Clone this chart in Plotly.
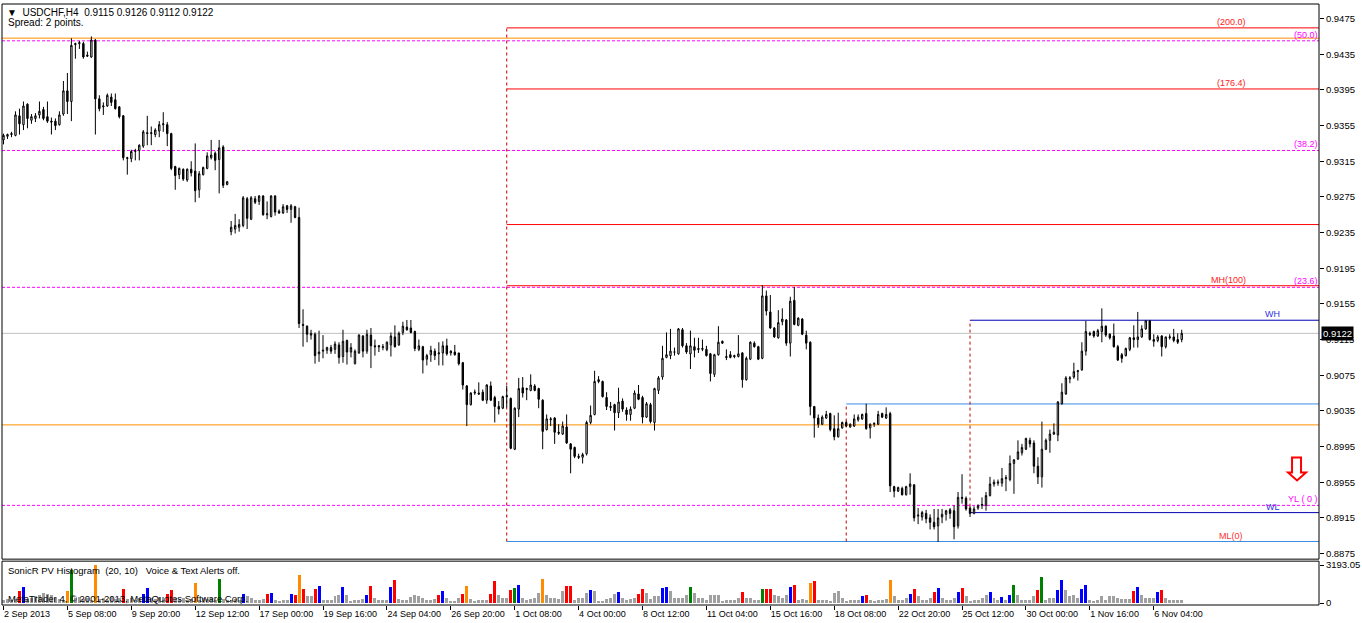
import plotly.graph_objects as go

# ---------------- data (USDCHF, H4) ----------------
open_ = [
    0.9339, 0.9343, 0.9345, 0.9344, 0.9366, 0.9356, 0.9379, 0.9361, 0.9363, 0.9367,
    0.9373, 0.9365, 0.9360, 0.9360, 0.9356, 0.9368, 0.9394, 0.9382, 0.9447, 0.9447,
    0.9447, 0.9434, 0.9432, 0.9451, 0.9385, 0.9376, 0.9377, 0.9387, 0.9384, 0.9376,
    0.9366, 0.9318, 0.9318, 0.9326, 0.9327, 0.9332, 0.9346, 0.9346, 0.9345, 0.9349,
    0.9356, 0.9356, 0.9346, 0.9309, 0.9300, 0.9306, 0.9294, 0.9306, 0.9304, 0.9283,
    0.9300, 0.9307, 0.9319, 0.9324, 0.9317, 0.9331, 0.9289, 0.9236, 0.9239, 0.9241,
    0.9243, 0.9273, 0.9250, 0.9273, 0.9270, 0.9276, 0.9255, 0.9253, 0.9276, 0.9259,
    0.9257, 0.9265, 0.9261, 0.9264, 0.9252, 0.9132, 0.9130, 0.9120, 0.9121, 0.9099,
    0.9102, 0.9103, 0.9106, 0.9104, 0.9109, 0.9096, 0.9114, 0.9101, 0.9088, 0.9100,
    0.9119, 0.9102, 0.9120, 0.9108, 0.9108, 0.9106, 0.9104, 0.9109, 0.9118, 0.9109,
    0.9123, 0.9129, 0.9128, 0.9124, 0.9104, 0.9107, 0.9093, 0.9098, 0.9102, 0.9099,
    0.9100, 0.9108, 0.9100, 0.9101, 0.9100, 0.9089, 0.9063, 0.9042, 0.9055, 0.9055,
    0.9056, 0.9047, 0.9063, 0.9050, 0.9040, 0.9038, 0.9051, 0.9049, 0.8992, 0.9037,
    0.9061, 0.9059, 0.9058, 0.9063, 0.9060, 0.9047, 0.9014, 0.9025, 0.9027, 0.9011,
    0.9009, 0.9017, 0.8998, 0.8994, 0.8984, 0.8983, 0.8987, 0.9022, 0.9031, 0.9070,
    0.9068, 0.9050, 0.9040, 0.9042, 0.9033, 0.9046, 0.9036, 0.9031, 0.9038, 0.9054,
    0.9050, 0.9028, 0.9042, 0.9022, 0.9058, 0.9073, 0.9095, 0.9097, 0.9101, 0.9099,
    0.9126, 0.9108, 0.9099, 0.9107, 0.9105, 0.9104, 0.9104, 0.9099, 0.9076, 0.9098,
    0.9113, 0.9096, 0.9098, 0.9097, 0.9096, 0.9100, 0.9070, 0.9093, 0.9111, 0.9107,
    0.9094, 0.9164, 0.9146, 0.9128, 0.9117, 0.9135, 0.9137, 0.9111, 0.9159, 0.9131,
    0.9138, 0.9120, 0.9112, 0.9040, 0.9027, 0.9020, 0.9027, 0.9032, 0.9015, 0.9006,
    0.9016, 0.9022, 0.9017, 0.9018, 0.9025, 0.9026, 0.9032, 0.9016, 0.9020, 0.9020,
    0.9032, 0.9027, 0.9032, 0.8950, 0.8945, 0.8948, 0.8941, 0.8950, 0.8952, 0.8917,
    0.8916, 0.8920, 0.8915, 0.8910, 0.8906, 0.8916, 0.8919, 0.8924, 0.8923, 0.8906,
    0.8938, 0.8937, 0.8926, 0.8920, 0.8926, 0.8929, 0.8929, 0.8940, 0.8953, 0.8954,
    0.8954, 0.8959, 0.8958, 0.8976, 0.8981, 0.8988, 0.8992, 0.9002, 0.8999, 0.8973,
    0.8961, 0.8992, 0.9002, 0.9009, 0.9008, 0.9043, 0.9054, 0.9071, 0.9073, 0.9079,
    0.9081, 0.9102, 0.9122, 0.9124, 0.9119, 0.9124, 0.9130, 0.9121, 0.9119, 0.9107,
    0.9098, 0.9097, 0.9104, 0.9117, 0.9115, 0.9118, 0.9127, 0.9136, 0.9115, 0.9114,
    0.9119, 0.9107, 0.9117, 0.9118, 0.9115, 0.9115,
]
high = [
    0.9346, 0.9346, 0.9348, 0.9371, 0.9374, 0.9382, 0.9380, 0.9368, 0.9369, 0.9382,
    0.9376, 0.9382, 0.9364, 0.9363, 0.9371, 0.9405, 0.9414, 0.9453, 0.9448, 0.9450,
    0.9449, 0.9438, 0.9455, 0.9452, 0.9389, 0.9381, 0.9391, 0.9391, 0.9391, 0.9377,
    0.9367, 0.9320, 0.9328, 0.9329, 0.9334, 0.9350, 0.9366, 0.9354, 0.9352, 0.9360,
    0.9370, 0.9359, 0.9347, 0.9310, 0.9308, 0.9307, 0.9307, 0.9315, 0.9335, 0.9304,
    0.9309, 0.9325, 0.9339, 0.9326, 0.9339, 0.9333, 0.9293, 0.9248, 0.9256, 0.9250,
    0.9276, 0.9275, 0.9276, 0.9276, 0.9277, 0.9277, 0.9270, 0.9277, 0.9277, 0.9261,
    0.9267, 0.9266, 0.9267, 0.9265, 0.9263, 0.9149, 0.9131, 0.9126, 0.9123, 0.9125,
    0.9120, 0.9107, 0.9109, 0.9113, 0.9112, 0.9126, 0.9115, 0.9111, 0.9104, 0.9121,
    0.9120, 0.9126, 0.9128, 0.9115, 0.9109, 0.9110, 0.9113, 0.9123, 0.9131, 0.9124,
    0.9135, 0.9137, 0.9137, 0.9125, 0.9115, 0.9108, 0.9099, 0.9108, 0.9105, 0.9112,
    0.9113, 0.9116, 0.9103, 0.9109, 0.9100, 0.9090, 0.9064, 0.9056, 0.9059, 0.9067,
    0.9059, 0.9065, 0.9068, 0.9052, 0.9046, 0.9052, 0.9063, 0.9050, 0.9039, 0.9072,
    0.9073, 0.9061, 0.9076, 0.9065, 0.9061, 0.9048, 0.9031, 0.9028, 0.9028, 0.9020,
    0.9023, 0.9031, 0.8999, 0.8995, 0.8987, 0.8988, 0.9024, 0.9041, 0.9080, 0.9074,
    0.9069, 0.9056, 0.9045, 0.9043, 0.9061, 0.9049, 0.9039, 0.9040, 0.9058, 0.9064,
    0.9052, 0.9045, 0.9044, 0.9061, 0.9074, 0.9108, 0.9123, 0.9127, 0.9106, 0.9128,
    0.9128, 0.9111, 0.9125, 0.9117, 0.9117, 0.9115, 0.9108, 0.9100, 0.9099, 0.9130,
    0.9114, 0.9104, 0.9102, 0.9098, 0.9120, 0.9101, 0.9096, 0.9113, 0.9113, 0.9108,
    0.9176, 0.9170, 0.9165, 0.9129, 0.9148, 0.9150, 0.9138, 0.9163, 0.9174, 0.9140,
    0.9139, 0.9125, 0.9113, 0.9040, 0.9031, 0.9030, 0.9035, 0.9033, 0.9030, 0.9033,
    0.9023, 0.9024, 0.9021, 0.9031, 0.9031, 0.9032, 0.9043, 0.9021, 0.9022, 0.9035,
    0.9033, 0.9039, 0.9034, 0.8951, 0.8950, 0.8950, 0.8951, 0.8965, 0.8953, 0.8926,
    0.8923, 0.8924, 0.8919, 0.8925, 0.8925, 0.8925, 0.8924, 0.8926, 0.8929, 0.8944,
    0.8964, 0.8939, 0.8928, 0.8928, 0.8930, 0.8938, 0.8944, 0.8961, 0.8958, 0.8958,
    0.8971, 0.8963, 0.8985, 0.8981, 0.9002, 0.8998, 0.9005, 0.9005, 0.9002, 0.8983,
    0.9023, 0.9004, 0.9014, 0.9021, 0.9046, 0.9066, 0.9074, 0.9074, 0.9089, 0.9081,
    0.9112, 0.9136, 0.9124, 0.9125, 0.9127, 0.9150, 0.9131, 0.9122, 0.9133, 0.9109,
    0.9100, 0.9106, 0.9118, 0.9131, 0.9146, 0.9131, 0.9137, 0.9137, 0.9121, 0.9120,
    0.9120, 0.9118, 0.9121, 0.9127, 0.9122, 0.9126,
]
low = [
    0.9334, 0.9340, 0.9342, 0.9343, 0.9345, 0.9350, 0.9352, 0.9357, 0.9359, 0.9363,
    0.9361, 0.9358, 0.9345, 0.9350, 0.9355, 0.9366, 0.9368, 0.9360, 0.9430, 0.9441,
    0.9430, 0.9432, 0.9431, 0.9345, 0.9371, 0.9367, 0.9376, 0.9377, 0.9373, 0.9363,
    0.9316, 0.9300, 0.9314, 0.9316, 0.9316, 0.9330, 0.9333, 0.9333, 0.9342, 0.9342,
    0.9348, 0.9332, 0.9305, 0.9283, 0.9295, 0.9293, 0.9292, 0.9298, 0.9269, 0.9274,
    0.9299, 0.9306, 0.9317, 0.9305, 0.9279, 0.9285, 0.9288, 0.9232, 0.9234, 0.9236,
    0.9241, 0.9239, 0.9249, 0.9267, 0.9266, 0.9254, 0.9250, 0.9252, 0.9254, 0.9256,
    0.9256, 0.9257, 0.9246, 0.9251, 0.9128, 0.9107, 0.9112, 0.9115, 0.9088, 0.9090,
    0.9094, 0.9099, 0.9099, 0.9099, 0.9088, 0.9089, 0.9087, 0.9095, 0.9087, 0.9099,
    0.9095, 0.9099, 0.9083, 0.9097, 0.9101, 0.9103, 0.9102, 0.9096, 0.9106, 0.9108,
    0.9120, 0.9125, 0.9122, 0.9102, 0.9102, 0.9077, 0.9086, 0.9090, 0.9092, 0.9086,
    0.9086, 0.9097, 0.9097, 0.9097, 0.9086, 0.9059, 0.9018, 0.9041, 0.9053, 0.9053,
    0.9046, 0.9043, 0.9046, 0.9022, 0.9031, 0.9037, 0.9039, 0.8992, 0.8991, 0.9028,
    0.9050, 0.9047, 0.9057, 0.9057, 0.9038, 0.8992, 0.9013, 0.9018, 0.8998, 0.9008,
    0.9008, 0.8998, 0.8965, 0.8982, 0.8981, 0.8976, 0.8985, 0.9020, 0.9030, 0.9066,
    0.9050, 0.9036, 0.9035, 0.9013, 0.9027, 0.9034, 0.9024, 0.9024, 0.9037, 0.9047,
    0.9021, 0.9027, 0.9021, 0.9013, 0.9054, 0.9070, 0.9094, 0.9093, 0.9097, 0.9098,
    0.9106, 0.9099, 0.9082, 0.9095, 0.9100, 0.9102, 0.9096, 0.9068, 0.9073, 0.9097,
    0.9110, 0.9092, 0.9094, 0.9094, 0.9095, 0.9061, 0.9069, 0.9092, 0.9106, 0.9092,
    0.9093, 0.9142, 0.9127, 0.9117, 0.9116, 0.9131, 0.9108, 0.9096, 0.9131, 0.9130,
    0.9120, 0.9104, 0.9030, 0.9005, 0.9016, 0.9019, 0.9026, 0.9012, 0.9002, 0.9005,
    0.9015, 0.9017, 0.9016, 0.9017, 0.9023, 0.9025, 0.9014, 0.9004, 0.9017, 0.9019,
    0.9027, 0.9026, 0.8944, 0.8938, 0.8944, 0.8940, 0.8940, 0.8941, 0.8911, 0.8908,
    0.8912, 0.8909, 0.8902, 0.8902, 0.8888, 0.8909, 0.8912, 0.8914, 0.8891, 0.8903,
    0.8931, 0.8923, 0.8916, 0.8919, 0.8924, 0.8925, 0.8923, 0.8939, 0.8950, 0.8951,
    0.8950, 0.8945, 0.8956, 0.8942, 0.8980, 0.8985, 0.8991, 0.8994, 0.8965, 0.8953,
    0.8949, 0.8991, 0.8988, 0.9008, 0.9001, 0.9042, 0.9053, 0.9066, 0.9071, 0.9069,
    0.9080, 0.9097, 0.9119, 0.9117, 0.9118, 0.9112, 0.9118, 0.9115, 0.9106, 0.9091,
    0.9089, 0.9096, 0.9102, 0.9106, 0.9106, 0.9117, 0.9126, 0.9114, 0.9107, 0.9112,
    0.9096, 0.9105, 0.9115, 0.9112, 0.9110, 0.9112,
]
close = [
    0.9344, 0.9345, 0.9346, 0.9367, 0.9357, 0.9377, 0.9363, 0.9365, 0.9366, 0.9371,
    0.9363, 0.9360, 0.9359, 0.9355, 0.9367, 0.9394, 0.9382, 0.9445, 0.9446, 0.9448,
    0.9432, 0.9433, 0.9451, 0.9385, 0.9374, 0.9377, 0.9389, 0.9381, 0.9374, 0.9365,
    0.9319, 0.9319, 0.9326, 0.9327, 0.9333, 0.9348, 0.9347, 0.9347, 0.9350, 0.9356,
    0.9357, 0.9346, 0.9307, 0.9299, 0.9307, 0.9295, 0.9306, 0.9302, 0.9282, 0.9301,
    0.9308, 0.9321, 0.9322, 0.9316, 0.9330, 0.9288, 0.9292, 0.9241, 0.9243, 0.9244,
    0.9274, 0.9251, 0.9274, 0.9269, 0.9276, 0.9255, 0.9256, 0.9276, 0.9258, 0.9257,
    0.9264, 0.9261, 0.9265, 0.9252, 0.9133, 0.9131, 0.9121, 0.9122, 0.9097, 0.9101,
    0.9103, 0.9106, 0.9102, 0.9110, 0.9095, 0.9113, 0.9101, 0.9106, 0.9102, 0.9120,
    0.9102, 0.9121, 0.9108, 0.9107, 0.9107, 0.9107, 0.9112, 0.9119, 0.9107, 0.9122,
    0.9130, 0.9126, 0.9123, 0.9105, 0.9108, 0.9092, 0.9097, 0.9103, 0.9097, 0.9100,
    0.9108, 0.9099, 0.9102, 0.9098, 0.9088, 0.9064, 0.9042, 0.9055, 0.9056, 0.9054,
    0.9047, 0.9064, 0.9047, 0.9040, 0.9037, 0.9051, 0.9052, 0.8993, 0.9038, 0.9060,
    0.9055, 0.9060, 0.9064, 0.9058, 0.9048, 0.9012, 0.9026, 0.9026, 0.9011, 0.9010,
    0.9018, 0.8999, 0.8992, 0.8984, 0.8983, 0.8986, 0.9022, 0.9030, 0.9068, 0.9068,
    0.9051, 0.9040, 0.9039, 0.9033, 0.9045, 0.9037, 0.9031, 0.9037, 0.9055, 0.9048,
    0.9028, 0.9043, 0.9023, 0.9060, 0.9072, 0.9094, 0.9098, 0.9102, 0.9101, 0.9127,
    0.9108, 0.9101, 0.9108, 0.9103, 0.9104, 0.9105, 0.9097, 0.9077, 0.9098, 0.9112,
    0.9111, 0.9095, 0.9095, 0.9096, 0.9099, 0.9070, 0.9094, 0.9112, 0.9107, 0.9093,
    0.9164, 0.9147, 0.9128, 0.9118, 0.9134, 0.9138, 0.9111, 0.9158, 0.9132, 0.9139,
    0.9121, 0.9111, 0.9040, 0.9027, 0.9020, 0.9028, 0.9031, 0.9014, 0.9006, 0.9015,
    0.9022, 0.9018, 0.9020, 0.9026, 0.9028, 0.9031, 0.9015, 0.9020, 0.9021, 0.9031,
    0.9028, 0.9031, 0.8951, 0.8945, 0.8949, 0.8941, 0.8950, 0.8953, 0.8915, 0.8918,
    0.8921, 0.8914, 0.8910, 0.8905, 0.8915, 0.8919, 0.8923, 0.8920, 0.8905, 0.8938,
    0.8937, 0.8925, 0.8920, 0.8925, 0.8929, 0.8930, 0.8940, 0.8953, 0.8955, 0.8955,
    0.8959, 0.8960, 0.8976, 0.8980, 0.8989, 0.8994, 0.9004, 0.8998, 0.8973, 0.8961,
    0.8992, 0.9002, 0.9009, 0.9011, 0.9045, 0.9056, 0.9072, 0.9072, 0.9079, 0.9080,
    0.9102, 0.9124, 0.9121, 0.9119, 0.9125, 0.9130, 0.9120, 0.9117, 0.9107, 0.9092,
    0.9094, 0.9105, 0.9117, 0.9115, 0.9118, 0.9127, 0.9136, 0.9115, 0.9113, 0.9118,
    0.9107, 0.9118, 0.9118, 0.9114, 0.9112, 0.9122,
]

# SonicR PV Histogram values and bar classes
# n = normal, r = bear climax, b = bull climax, g = green, o = orange
volume = [
    280, 336, 224, 336, 1036, 1372, 336, 420, 560, 700,
    840, 784, 700, 420, 336, 280, 1036, 2800, 420, 504,
    336, 420, 280, 3193.05, 336, 420, 280, 504, 336, 420,
    1204, 336, 420, 280, 420, 756, 1260, 420, 336, 504,
    280, 756, 1120, 420, 336, 420, 280, 336, 1680, 280,
    420, 336, 420, 280, 2044, 336, 280, 224, 336, 280,
    756, 560, 420, 224, 280, 336, 756, 840, 280, 168,
    280, 224, 756, 700, 2380, 1204, 560, 560, 1204, 1456,
    280, 280, 224, 560, 700, 1372, 700, 140, 224, 280,
    336, 700, 1456, 420, 280, 224, 224, 1372, 1960, 336,
    280, 280, 504, 700, 560, 420, 280, 280, 336, 700,
    1036, 420, 140, 140, 420, 756, 1456, 336, 140, 280,
    280, 280, 756, 1876, 700, 420, 420, 1120, 1260, 1540,
    420, 280, 336, 420, 840, 2044, 700, 420, 420, 336,
    980, 1456, 1456, 280, 420, 420, 840, 1120, 980, 140,
    140, 336, 420, 784, 952, 420, 280, 336, 420, 756,
    1204, 840, 336, 560, 560, 1288, 1372, 980, 420, 420,
    420, 700, 1372, 840, 420, 420, 280, 700, 700, 700,
    84, 280, 280, 280, 420, 952, 420, 420, 280, 224,
    1204, 1204, 1204, 700, 616, 420, 700, 1372, 1540, 280,
    336, 280, 1708, 1876, 280, 280, 280, 84, 840, 980,
    420, 84, 280, 280, 224, 616, 700, 280, 140, 224,
    224, 336, 1960, 560, 224, 224, 420, 784, 1204, 560,
    280, 280, 420, 924, 1288, 420, 280, 280, 420, 952,
    1288, 560, 84, 224, 224, 420, 700, 952, 420, 280,
    532, 280, 700, 1540, 700, 224, 280, 280, 560, 1120,
    2212, 280, 420, 420, 1120, 1960, 1120, 560, 700, 420,
    1204, 1540, 280, 84, 224, 560, 280, 560, 560, 420,
    336, 336, 336, 1036, 1372, 700, 420, 420, 420, 952,
    1120, 420, 224, 280, 280, 280,
]
vol_type = list(
    "nnnnrbnnnn" "nnnnnnognn" "nnnonnnnnn" "rnnnnbbnnn" "nrrnnnnnon"
    "nnnngnnnnn" "bnnnnnrbnn" "nnbrornnrb" "nnnnnbnnnn" "nbrnnnnbrn"
    "nnnnnnnnnr" "bnnnnronnn" "nnrrnnnrgb" "nnnnnonnnn" "nrrnnnnbnn"
    "nnnnbnnnnr" "rnnnnbbnnn" "nngnnnnnnn" "nnnnnrnnnn" "grrnnnnbrn"
    "nnornnnnnn" "nnnnnbrnnn" "nnonnnnbrn" "nnnrbnnnnb" "rnnnnnnbnn"
    "bnbgnnnnnr" "gnnnbbnnnn" "bbnnnnnnnn" "nnnrbnnnnb" "rnnnnn"
)

tick_bars = [0, 16, 32, 48, 64, 80, 96, 112, 128, 144, 160, 176, 192, 208, 224, 240, 256, 272, 288]
tick_labels = ["2 Sep 2013", "5 Sep 08:00", "9 Sep 20:00", "12 Sep 12:00", "17 Sep 00:00",
               "19 Sep 16:00", "24 Sep 04:00", "26 Sep 20:00", "1 Oct 08:00", "4 Oct 00:00",
               "8 Oct 12:00", "11 Oct 04:00", "15 Oct 16:00", "18 Oct 08:00", "22 Oct 20:00",
               "25 Oct 12:00", "30 Oct 00:00", "1 Nov 16:00", "6 Nov 04:00"]
price_ticks = [0.9475, 0.9435, 0.9395, 0.9355, 0.9315, 0.9275, 0.9235, 0.9195,
               0.9155, 0.9115, 0.9075, 0.9035, 0.8995, 0.8955, 0.8915, 0.8875]
hist_ticks = [0, 3193.05]
hist_tick_labels = ["0", "3193.05"]

# indicator levels
orange_levels = [0.94531, 0.90193]
magenta_levels = [0.94501, 0.93271, 0.91736, 0.89290]
magenta_labels = ["(50.0)", "(38.2)", "(23.6)", "YL\u00a0(\u00a00\u00a0)"]
bid_price = 0.9122
monthly_start = 126
monthly_red_levels = [0.94646, 0.93961, 0.92440, 0.91754]
monthly_red_labels = ["(200.0)", "(176.4)", "", "MH(100)"]
monthly_low = 0.88885
monthly_low_label = "ML(0)"
box2_start = 211
box2_high = 0.90428
weekly_start = 242
weekly_levels = [0.91367, 0.89209]
weekly_labels = ["WH", "WL"]

# ---------------- layout geometry ----------------
W, H = 1362, 623
ML, MR, MT, MB = 2, 41, 2, 18
PW = W - ML - MR
PH = H - MT - MB
XR = [-0.375, 329.375]
FONT = "Liberation Sans, Arial, sans-serif"


def pxx(p):
    return (p - ML) / PW


def pxy(p):
    return (H - MB - p) / PH


main_dom = [pxy(559), 1.0]
hist_dom = [0.0, pxy(561)]

x = list(range(len(open_)))
colors = {"n": "#A0A0A0", "r": "#FF0000", "b": "#0000FF", "g": "#008000", "o": "#FF8C00"}

fig = go.Figure()
fig.add_trace(go.Candlestick(
    x=x, open=open_, high=high, low=low, close=close,
    increasing=dict(line=dict(color="black", width=1), fillcolor="white"),
    decreasing=dict(line=dict(color="black", width=1), fillcolor="black"),
    whiskerwidth=0, hoverinfo="skip", xaxis="x", yaxis="y", showlegend=False,
))
fig.add_trace(go.Bar(
    x=x, y=volume, width=0.75,
    marker=dict(color=[colors[c] for c in vol_type], line=dict(width=0)),
    xaxis="x", yaxis="y2", hoverinfo="skip", showlegend=False,
))

shapes = []
def hline(y, color, dash="solid", x0=None, width=1):
    if x0 is None:
        shapes.append(dict(type="line", xref="paper", yref="y", x0=0, x1=1, y0=y, y1=y,
                           line=dict(color=color, width=width, dash=dash), layer="below"))
    else:
        shapes.append(dict(type="line", xref="x", yref="y", x0=x0, x1=XR[1], y0=y, y1=y,
                           line=dict(color=color, width=width, dash=dash), layer="below"))

def vline(xb, y0, y1):
    shapes.append(dict(type="line", xref="x", yref="y", x0=xb, x1=xb, y0=y0, y1=y1,
                       line=dict(color="#C00000", width=1, dash="3px,3px"), layer="below"))

hline(bid_price, "#C0C0C0")
for lv in orange_levels:
    hline(lv, "#FF9000")
for lv in magenta_levels:
    hline(lv, "#FF00FF", dash="3px,2px")
for lv in monthly_red_levels:
    hline(lv, "#FF0000", x0=monthly_start)
hline(monthly_low, "#3A8EE6", x0=monthly_start)
hline(box2_high, "#3A8EE6", x0=box2_start)
for lv in weekly_levels:
    hline(lv, "#0000B0", x0=weekly_start)
vline(monthly_start, monthly_low, monthly_red_levels[0])
vline(box2_start, monthly_low, box2_high)
vline(weekly_start, weekly_levels[1], weekly_levels[0])

# panel frames
shapes.append(dict(type="rect", xref="paper", yref="y domain", x0=0, x1=1, y0=0, y1=1,
                   line=dict(color="black", width=1)))
shapes.append(dict(type="rect", xref="paper", yref="y2 domain", x0=0, x1=1, y0=0, y1=1,
                   line=dict(color="black", width=1)))

# sell arrow (outline)
arrow_px = [(1294, 457), (1303, 457), (1303, 472), (1308, 472), (1299, 480), (1290, 472), (1294, 472)]
path = "M " + " L ".join(f"{pxx(a):.5f},{pxy(b):.5f}" for a, b in arrow_px) + " Z"
shapes.append(dict(type="path", xref="paper", yref="paper", path=path,
                   line=dict(color="#FF0000", width=2), fillcolor="white"))

ann = []
def label(text, y, xr, color):
    ann.append(dict(text=text, xref="paper", yref="y", x=pxx(xr), y=y, xanchor="right",
                    yanchor="bottom", showarrow=False, borderpad=0,
                    font=dict(family=FONT, size=9, color=color)))

for lv, t in zip(monthly_red_levels, monthly_red_labels):
    if t:
        label(t, lv, 1249, "#FF2020")
label(monthly_low_label, monthly_low, 1246, "#FF3030")
for lv, t in zip(magenta_levels, magenta_labels):
    label(t, lv, 1321, "#FF00FF")
for lv, t in zip(weekly_levels, weekly_labels):
    label(t, lv, 1283, "#3030E0")

def text_px(t, xl, yc, size=10, color="black"):
    ann.append(dict(text=t, xref="paper", yref="paper", x=pxx(xl), y=pxy(yc), xanchor="left",
                    yanchor="middle", showarrow=False, borderpad=0,
                    font=dict(family=FONT, size=size, color=color)))

text_px("\u25BC\u00a0\u00a0USDCHF,H4\u00a0\u00a00.9115 0.9126 0.9112 0.9122", 6, 10.5, 10)
text_px("Spread: 2 points.", 7, 20.5, 10)
text_px("SonicR PV Histogram\u00a0\u00a0(20, 10)\u00a0\u00a0\u00a0Voice &amp; Text Alerts off.", 7, 570.5, 9.5)
text_px("MetaTrader 4, \u00a9 2001-2013, MetaQuotes Software Corp.", 7, 598, 9.5)

# current price tag
ann.append(dict(text="0.9122", xref="paper", yref="y", x=1, xshift=2, y=bid_price,
                xanchor="left", yanchor="middle", showarrow=False, bgcolor="black",
                borderpad=1, font=dict(family=FONT, size=9.5, color="white")))

fig.update_layout(
    width=W, height=H, autosize=False,
    margin=dict(l=ML, r=MR, t=MT, b=MB, pad=0),
    paper_bgcolor="white", plot_bgcolor="white",
    showlegend=False, boxgap=0.5, bargap=0,
    font=dict(family=FONT, size=9, color="black"),
    xaxis=dict(domain=[0, 1], range=XR, anchor="y2", tickmode="array", tickvals=tick_bars,
               ticktext=tick_labels, ticks="outside", ticklen=4, tickcolor="black",
               ticklabelposition="outside right", showgrid=False, zeroline=False,
               showline=False, rangeslider=dict(visible=False),
               tickfont=dict(family=FONT, size=9, color="black")),
    yaxis=dict(domain=main_dom, range=[0.88687, 0.94914], side="right", anchor="x",
               tickmode="array", tickvals=price_ticks, tickformat=".4f", ticks="outside",
               ticklen=4, tickcolor="black", showgrid=False, zeroline=False, showline=False,
               tickfont=dict(family=FONT, size=9.5, color="black")),
    yaxis2=dict(domain=hist_dom, range=[-168, 3529], side="right", anchor="x",
                tickmode="array", tickvals=hist_ticks, ticktext=hist_tick_labels, ticks="outside",
                ticklen=4, tickcolor="black", showgrid=False, zeroline=False, showline=False,
                tickfont=dict(family=FONT, size=9.5, color="black")),
    shapes=shapes, annotations=ann,
)

fig.write_html(
    "out.html",
    config={"displayModeBar": False},
    post_script="document.body.style.margin='0';document.body.style.padding='0';",
)
